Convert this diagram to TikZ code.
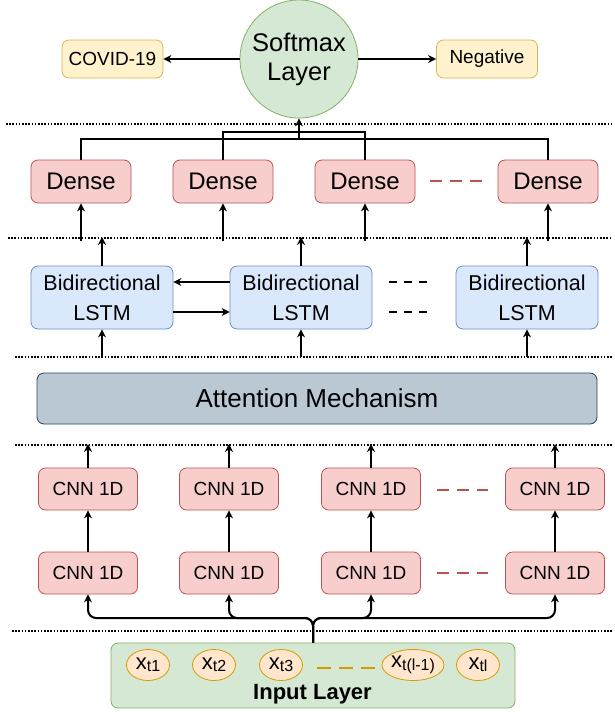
\documentclass[tikz,border=0pt]{standalone}
\usepackage{fontspec}
\setmainfont{Liberation Sans}
\usetikzlibrary{arrows.meta,shapes.geometric}
\definecolor{gfill}{HTML}{D5E8D4}\definecolor{gdraw}{HTML}{82B366}
\definecolor{yfill}{HTML}{FFF2CC}\definecolor{ydraw}{HTML}{D6B656}
\definecolor{rfill}{HTML}{F8CECC}\definecolor{rdraw}{HTML}{B85450}
\definecolor{bfill}{HTML}{DAE8FC}\definecolor{bdraw}{HTML}{6C8EBF}
\definecolor{afill}{HTML}{BAC8D3}\definecolor{adraw}{HTML}{23445D}
\definecolor{ofill}{HTML}{FFE6CC}\definecolor{odraw}{HTML}{D79B00}
\newcommand\xsub[1]{{\fontsize{22}{22}\selectfont x}\raisebox{-0.45ex}{\fontsize{16}{16}\selectfont #1}}
\begin{document}
\begin{tikzpicture}[x=1pt,y=-1pt,
  box/.style={draw, rounded corners=7pt, line width=0.8pt, inner sep=0pt, align=center},
  yelbox/.style={box, fill=yfill, draw=ydraw, minimum width=101pt, minimum height=38pt, font=\fontsize{19}{21}\selectfont},
  densebox/.style={box, fill=rfill, draw=rdraw, minimum width=100pt, minimum height=43pt, font=\fontsize{24}{28}\selectfont},
  cnnbox/.style={box, fill=rfill, draw=rdraw, minimum width=99pt, minimum height=42pt, font=\fontsize{19}{22}\selectfont},
  lstmbox/.style={box, fill=bfill, draw=bdraw, minimum width=142pt, minimum height=63pt, font=\fontsize{21.5}{30}\selectfont},
  inel/.style={ellipse, draw=odraw, fill=ofill, line width=0.8pt, minimum width=43pt, minimum height=31pt, inner sep=0pt},
  arr/.style={line width=2pt, -{Stealth[length=8pt,width=8pt]}},
  conn/.style={line width=2pt},
  dots/.style={line width=1.6pt, dash pattern=on 1.6pt off 1.6pt},
  rdash/.style={line width=2.2pt, draw=rdraw, dash pattern=on 12pt off 8pt},
  kdash/.style={line width=1.8pt, dash pattern=on 8pt off 7pt},
  odash/.style={line width=2.6pt, draw=odraw, dash pattern=on 14pt off 8pt}]
\useasboundingbox (0,0) rectangle (615,712);

% separators
\draw[dots] (6,124) -- (612,124);
\draw[dots] (8,238) -- (612,238);
\draw[dots] (15,357) -- (612,357);
\draw[dots] (15,445) -- (612,445);
\draw[dots] (12,631) -- (612,631);

% softmax level
\node[circle, draw=gdraw, fill=gfill, line width=0.8pt, minimum size=118pt, inner sep=0pt, align=center,
  font=\fontsize{25.5}{29}\selectfont] (soft) at (299,59) {Softmax\\Layer};
\node[yelbox] (covid) at (112.5,59) {COVID-19};
\node[yelbox] (neg) at (487,59) {Negative};
\draw[arr] (soft) -- (covid);
\draw[arr] (soft) -- (neg);

% dense level
\node[densebox] (d1) at (81,181.5) {Dense};
\node[densebox] (d2) at (223,181.5) {Dense};
\node[densebox] (d3) at (365,181.5) {Dense};
\node[densebox] (d4) at (548,181.5) {Dense};
\draw[rdash] (430,181) -- (482,181);
\coordinate (tj) at (299,139);
\coordinate (ti) at (299,132);
\draw[conn] (d1.north) |- (tj) -| (d4.north);
\draw[conn] (d2.north) |- (ti) -| (d3.north);
\draw[arr] (tj) -- (soft.south);
\draw[arr] (81,241) coordinate (d1in) -- (d1.south);
\draw[arr] (223,241) coordinate (d2in) -- (d2.south);
\draw[arr] (365,241) coordinate (d3in) -- (d3.south);
\draw[arr] (548,241) coordinate (d4in) -- (d4.south);

% BiLSTM level
\node[lstmbox] (l1) at (102,297.5) {Bidirectional\\LSTM};
\node[lstmbox] (l2) at (301,297.5) {Bidirectional\\LSTM};
\node[lstmbox] (l3) at (527,297.5) {Bidirectional\\LSTM};
\coordinate (l1o) at (102,237); \coordinate (l2o) at (301,237); \coordinate (l3o) at (527,237);
\coordinate (l1i) at (102,357); \coordinate (l2i) at (301,357); \coordinate (l3i) at (527,357);
\foreach \n in {l1,l2,l3}{
  \draw[arr] (\n.north) -- (\n o);
  \draw[arr] (\n i) -- (\n.south);
}
\draw[arr] (l2.west |- 0,282) -- (l1.east |- 0,282);
\draw[arr] (l1.east |- 0,312) -- (l2.west |- 0,312);
\draw[kdash] (389,282) -- (427,282);
\draw[kdash] (389,312) -- (427,312);

% attention
\node[box, fill=afill, draw=adraw, minimum width=560pt, minimum height=51pt,
  font=\fontsize{26}{30}\selectfont] (att) at (317,398.5) {Attention Mechanism};

% CNN level
\foreach \n/\x in {1/88,2/229,3/371,4/555}{
  \node[cnnbox] (c\n t) at (\x,489) {CNN 1D};
  \node[cnnbox] (c\n b) at (\x,573) {CNN 1D};
  \coordinate (c\n o) at (\x,444);
  \draw[arr] (c\n t.north) -- (c\n o);
  \draw[arr] (c\n b.north) -- (c\n t.south);
}
\draw[rdash] (436.5,490) -- (488,490);
\draw[rdash] (436.5,573) -- (488,573);

% input layer
\node[box, fill=gfill, draw=gdraw, minimum width=404pt, minimum height=65pt] (inp) at (313,675.5) {};
\node[inel] (e1) at (148,665) {\xsub{t1}};
\node[inel] (e2) at (214,665) {\xsub{t2}};
\node[inel] (e3) at (281,665) {\xsub{t3}};
\node[inel] (e4) at (413,665) {\xsub{t(l-1)}};
\node[inel] (e5) at (478,665) {\xsub{tl}};
\draw[odash] (317,668) -- (375,668);
\node[font=\fontsize{22}{24}\bfseries\selectfont] (inlab) at (312.5,694.5) {Input Layer};
\coordinate (fk) at (313,618);
\foreach \n in {1,2,3,4}{
  \draw[arr, rounded corners=8pt] (inp.north) -- (fk) -| (c\n b.south);
}
\end{tikzpicture}
\end{document}
